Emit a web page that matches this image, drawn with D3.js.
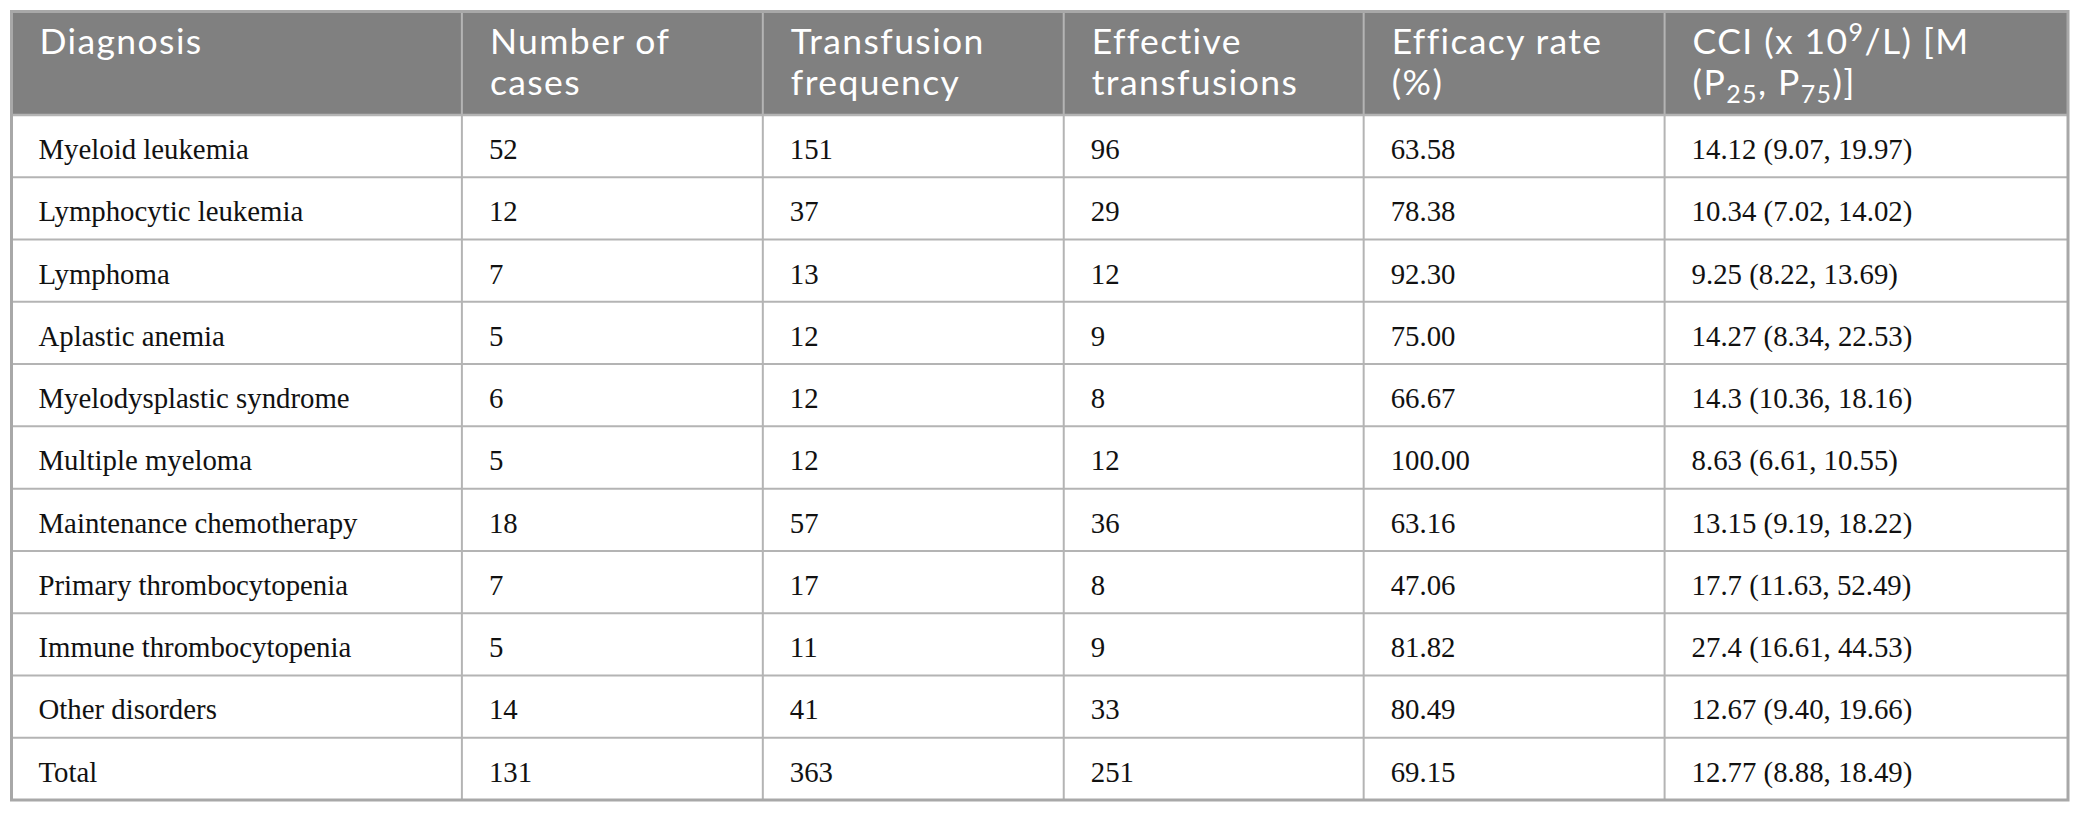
<!DOCTYPE html>
<html lang="en">
	<head>
		<meta charset="utf-8">
		<title>Platelet transfusion efficacy by diagnosis</title>
		<script src="https://d3js.org/d3.v7.min.js"></script>
		<style type="text/css">
			body { margin: 0; background: #fff; }
		</style>
	</head>
	<body>
		<script type="text/javascript">
			//Table values
			var diagnoses = ["Myeloid leukemia", "Lymphocytic leukemia", "Lymphoma", "Aplastic anemia",
							 "Myelodysplastic syndrome", "Multiple myeloma", "Maintenance chemotherapy",
							 "Primary thrombocytopenia", "Immune thrombocytopenia", "Other disorders", "Total"];
			var cases = [52, 12, 7, 5, 6, 5, 18, 7, 5, 14, 131];
			var frequency = [151, 37, 13, 12, 12, 12, 57, 17, 11, 41, 363];
			var effective = [96, 29, 12, 9, 8, 12, 36, 8, 9, 33, 251];
			var efficacy = ["63.58", "78.38", "92.30", "75.00", "66.67", "100.00", "63.16", "47.06", "81.82", "80.49", "69.15"];
			var cciMedian = ["14.12", "10.34", "9.25", "14.27", "14.3", "8.63", "13.15", "17.7", "27.4", "12.67", "12.77"];
			var cciP25 = ["9.07", "7.02", "8.22", "8.34", "10.36", "6.61", "9.19", "11.63", "16.61", "9.40", "8.88"];
			var cciP75 = ["19.97", "14.02", "13.69", "22.53", "18.16", "10.55", "18.22", "52.49", "44.53", "19.66", "18.49"];

			//Column headers, one array of lines per column (^ = superscript, _ = subscript)
			var headers = [
				["Diagnosis"],
				["Number of", "cases"],
				["Transfusion", "frequency"],
				["Effective", "transfusions"],
				["Efficacy rate", "(%)"],
				["CCI (x 10^9/L) [M", "(P_25, P_75)]"]
			];

			//Layout
			var width = 2081;
			var height = 815;
			var box = { left: 11.5, right: 2068, top: 11.5, head: 115, bottom: 800 };
			var colWeights = [450.5, 301, 301, 300, 301, 403.5];
			var pad = 27;
			var lineColor = "#b4b4b4";

			var rows = diagnoses.map(function(d, i) {
				return [d, cases[i], frequency[i], effective[i], efficacy[i],
						cciMedian[i] + " (" + cciP25[i] + ", " + cciP75[i] + ")"];
			});

			var edges = [0];
			colWeights.forEach(function(w, i) { edges.push(edges[i] + w); });

			var x = d3.scaleLinear()
				.domain([0, d3.sum(colWeights)])
				.range([box.left, box.right]);

			var y = d3.scaleBand()
				.domain(d3.range(rows.length))
				.range([box.head, box.bottom]);

			var svg = d3.select("body")
						.append("svg")
							.attr("width", width)
							.attr("height", height);

			//Header background
			svg.append("rect")
				.attr("x", box.left)
				.attr("y", box.top)
				.attr("width", box.right - box.left)
				.attr("height", box.head - box.top)
				.attr("fill", "#808080");

			//Header text, one <text> per line
			headers.forEach(function(lines, ci) {
				lines.forEach(function(line, li) {
					var t = svg.append("text")
						.attr("x", x(edges[ci]) + pad + 1)
						.attr("y", 54 + li * 41)
						.attr("font-family", "Lato, sans-serif")
						.attr("font-size", "35.5px")
						.attr("letter-spacing", "1.4px")
						.attr("fill", "#fff");
					var shift = 0;
					line.split(/(\^\d+|_\d+)/).forEach(function(p) {
						if (p === "") return;
						var ts = t.append("tspan");
						if (p[0] === "^" || p[0] === "_") {
							var d = p[0] === "^" ? -13 : 8;
							ts.text(p.slice(1)).attr("font-size", "25px").attr("dy", d - shift);
							shift = d;
						} else {
							ts.text(p).attr("dy", -shift);
							shift = 0;
						}
					});
				});
			});

			//Body text
			svg.selectAll(".cell")
				.data(d3.merge(rows.map(function(r, ri) {
					return r.map(function(v, ci) { return { v: v, r: ri, c: ci }; });
				})))
				.enter()
				.append("text")
				.attr("class", "cell")
				.text(function(d) { return d.v; })
				.attr("x", function(d) { return x(edges[d.c]) + pad; })
				.attr("y", function(d) { return y(d.r) + 44; })
				.attr("font-family", "'Liberation Serif', serif")
				.attr("font-size", "28.8px")
				.attr("fill", "#111");

			//Row lines
			svg.selectAll(".hline")
				.data(d3.range(1, rows.length))
				.enter()
				.append("line")
				.attr("x1", box.left)
				.attr("x2", box.right)
				.attr("y1", function(d) { return y(d); })
				.attr("y2", function(d) { return y(d); })
				.attr("stroke", lineColor)
				.attr("stroke-width", 2);

			svg.append("line")
				.attr("x1", box.left).attr("x2", box.right)
				.attr("y1", box.head).attr("y2", box.head)
				.attr("stroke", lineColor)
				.attr("stroke-width", 2.5);

			//Column lines
			svg.selectAll(".vline")
				.data(edges.slice(1, -1))
				.enter()
				.append("line")
				.attr("x1", function(d) { return x(d); })
				.attr("x2", function(d) { return x(d); })
				.attr("y1", box.top)
				.attr("y2", box.bottom)
				.attr("stroke", lineColor)
				.attr("stroke-width", 2);

			//Outer border
			svg.append("rect")
				.attr("x", box.left)
				.attr("y", box.top)
				.attr("width", box.right - box.left)
				.attr("height", box.bottom - box.top)
				.attr("fill", "none")
				.attr("stroke", "#a8a8a8")
				.attr("stroke-width", 3);
		</script>
	</body>
</html>
